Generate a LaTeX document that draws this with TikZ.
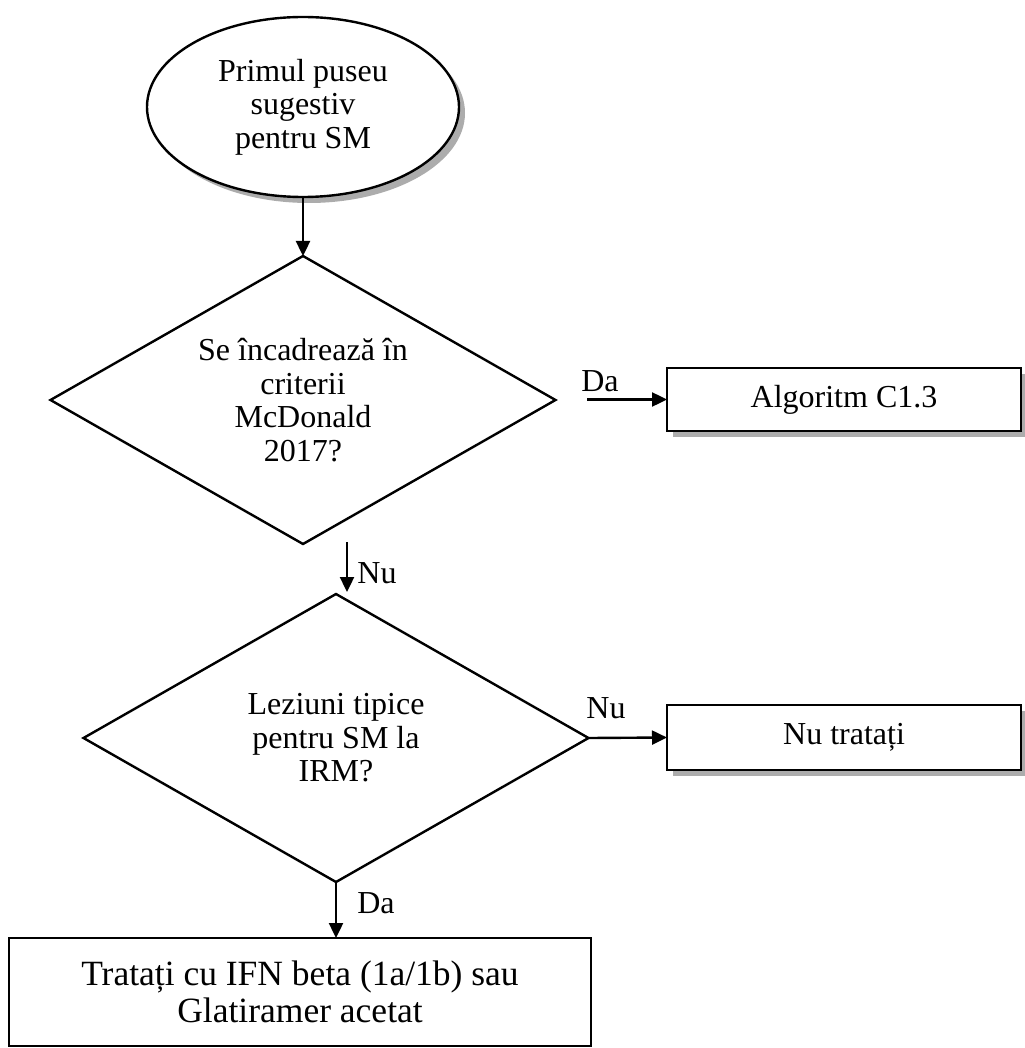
\documentclass[tikz,border=0pt]{standalone}
\usepackage{fontspec}
\setmainfont{Liberation Serif}
\usetikzlibrary{arrows.meta,positioning,shapes.geometric,shadows}

\begin{document}
\begin{tikzpicture}[x=1pt,y=-1pt,
    line width=2.4pt,
    arr/.style={-{Triangle[length=15pt,width=14pt]}},
    txt/.style={font=\fontsize{32}{33.5}\selectfont,align=center},
    shad/.style={drop shadow={shadow xshift=6pt,shadow yshift=-6pt,fill=gray!65,opacity=1}},
    startbox/.style={ellipse,draw,line width=2.4pt,fill=white,shad,txt,inner sep=0pt,outer sep=0pt,
      minimum width=312pt,minimum height=180pt},
    question/.style={diamond,draw,line width=2.4pt,txt,aspect=1.75,inner sep=0pt,outer sep=0pt,
      minimum width=505pt,minimum height=288pt},
    outbox/.style={rectangle,draw,line width=2.6pt,fill=white,shad,txt,inner sep=0pt,outer sep=0pt,
      minimum width=354pt},
    lbl/.style={font=\fontsize{32}{33.5}\selectfont,inner sep=0pt}]
  \useasboundingbox (0,0) rectangle (1024,1048);

  % Start
  \node[startbox] (start) at (303,107) {Primul puseu\\sugestiv\\pentru SM};

  % Questions
  \node[question] (q1) at (303,400) {Se încadrează în\\criterii\\McDonald\\2017?};
  \node[question] (q2) at (336,738) {Leziuni tipice\\pentru SM la\\IRM?};

  % Outcomes
  \node[outbox,minimum height=63pt] (alg) at (844,399.5) {Algoritm C1.3};
  \node[outbox,minimum height=65pt] (notreat) at (844,737.5) {Nu tratați};
  \node[rectangle,draw,line width=2.6pt,fill=white,align=center,inner sep=0pt,outer sep=0pt,
    font=\fontsize{35.5}{37}\selectfont,
    minimum width=582pt,minimum height=108pt] (treat) at (300,992)
    {Tratați cu IFN beta (1a/1b) sau\\Glatiramer acetat};

  % Loose arrow ends
  \coordinate (daStart) at (587,399.5);
  \coordinate (nuStart) at (347,542);
  \coordinate (nuEnd) at (347,592);

  % Connectors
  \draw[arr] (start.south) -- (q1.north);
  \draw[arr] (daStart) -- (alg.west);
  \draw[arr] (nuStart) -- (nuEnd);
  \draw[arr] (q2.east) -- (notreat.west);
  \draw[arr] (q2.south) -- (q2.south |- treat.north);

  % Labels
  \node[lbl] (daTop) at (600,381) {Da};
  \node[lbl] (nuMid) at (377,573) {Nu};
  \node[lbl] (nuRight) at (606,708) {Nu};
  \node[lbl] (daLow) at (376,903) {Da};
\end{tikzpicture}
\end{document}
